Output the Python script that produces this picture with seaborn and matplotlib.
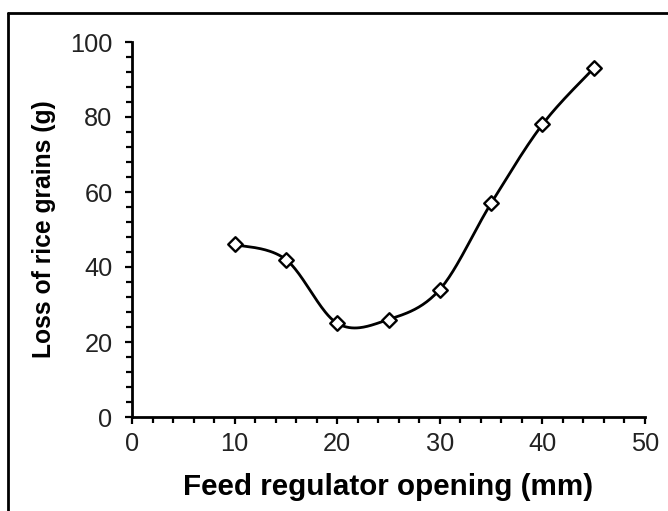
import numpy as np
import matplotlib
matplotlib.use("Agg")
import matplotlib.pyplot as plt
import seaborn as sns
import pandas as pd
from matplotlib.ticker import MultipleLocator
from matplotlib.lines import Line2D

opening_mm = [10, 15, 20, 25, 30, 35, 40, 45]
loss_g = [46, 42, 25, 26, 34, 57, 78, 93]

x_ticks = [0, 10, 20, 30, 40, 50]
y_ticks = [0, 20, 40, 60, 80, 100]
x_label = "Feed regulator opening (mm)"
y_label = "Loss of rice grains (g)"

sns.set_theme(style="white")
plt.rcParams['font.family'] = ['Liberation Sans', 'DejaVu Sans']

df = pd.DataFrame({"x": opening_mm, "y": loss_g})

# Excel-style smoothed line (cubic Bezier, Catmull-Rom control points)
def smooth_curve(xs, ys, n=40):
    P = np.column_stack([xs, ys]).astype(float)
    P_ext = np.vstack([P[0], P, P[-1]])
    out = []
    for i in range(1, len(P_ext) - 2):
        p0, p1, p2, p3 = P_ext[i - 1], P_ext[i], P_ext[i + 1], P_ext[i + 2]
        c1 = p1 + (p2 - p0) / 6.0
        c2 = p2 - (p3 - p1) / 6.0
        t = np.linspace(0, 1, n)[:, None]
        seg = ((1 - t) ** 3) * p1 + 3 * ((1 - t) ** 2) * t * c1 + 3 * (1 - t) * t ** 2 * c2 + t ** 3 * p2
        out.append(seg if i == 1 else seg[1:])
    return np.vstack(out)

curve = smooth_curve(df["x"].values, df["y"].values)
curve_df = pd.DataFrame({"x": curve[:, 0], "y": curve[:, 1]})

fig = plt.figure(figsize=(6.68, 5.11), dpi=100)
ax = fig.add_axes([132 / 668, 1 - 417 / 511, (645 - 132) / 668, (417 - 42) / 511])

sns.lineplot(data=curve_df, x="x", y="y", ax=ax, color="black", linewidth=2.0,
             sort=False, estimator=None)
sns.scatterplot(data=df, x="x", y="y", ax=ax, marker="D", s=55,
                facecolor="white", edgecolor="black", linewidth=1.7, zorder=5)

ax.set_xlim(0, 50)
ax.set_ylim(0, 100)
ax.set_xticks(x_ticks)
ax.set_yticks(y_ticks)
ax.xaxis.set_minor_locator(MultipleLocator(2))
ax.yaxis.set_minor_locator(MultipleLocator(4))

for s in ["top", "right"]:
    ax.spines[s].set_visible(False)
for s in ["left", "bottom"]:
    ax.spines[s].set_color("black")
    ax.spines[s].set_linewidth(2.0)

ax.tick_params(axis="x", which="both", bottom=True, top=False)
ax.tick_params(axis="y", which="both", left=True, right=False)
ax.tick_params(axis="both", which="major", direction="out", length=5, width=1.6,
               colors="black", labelsize=18.3)
ax.tick_params(axis="both", which="minor", direction="out", length=4, width=1.6,
               colors="black")
ax.tick_params(axis="x", which="major", pad=6)
ax.tick_params(axis="y", which="major", pad=9)
for lab in ax.get_xticklabels() + ax.get_yticklabels():
    lab.set_color("#222222")

ax.set_xlabel(x_label, fontsize=21.3, fontweight="bold", labelpad=12, color="black")
ax.set_ylabel(y_label, fontsize=17.7, fontweight="bold", labelpad=10, color="black")

# figure border (left and top edges visible)
fig.add_artist(Line2D([8 / 668, 8 / 668], [0, 1 - 13 / 511], transform=fig.transFigure,
                      color="black", linewidth=2))
fig.add_artist(Line2D([8 / 668, 1], [1 - 13 / 511, 1 - 13 / 511], transform=fig.transFigure,
                      color="black", linewidth=2))

fig.savefig("out.png", dpi=100, facecolor="white")
